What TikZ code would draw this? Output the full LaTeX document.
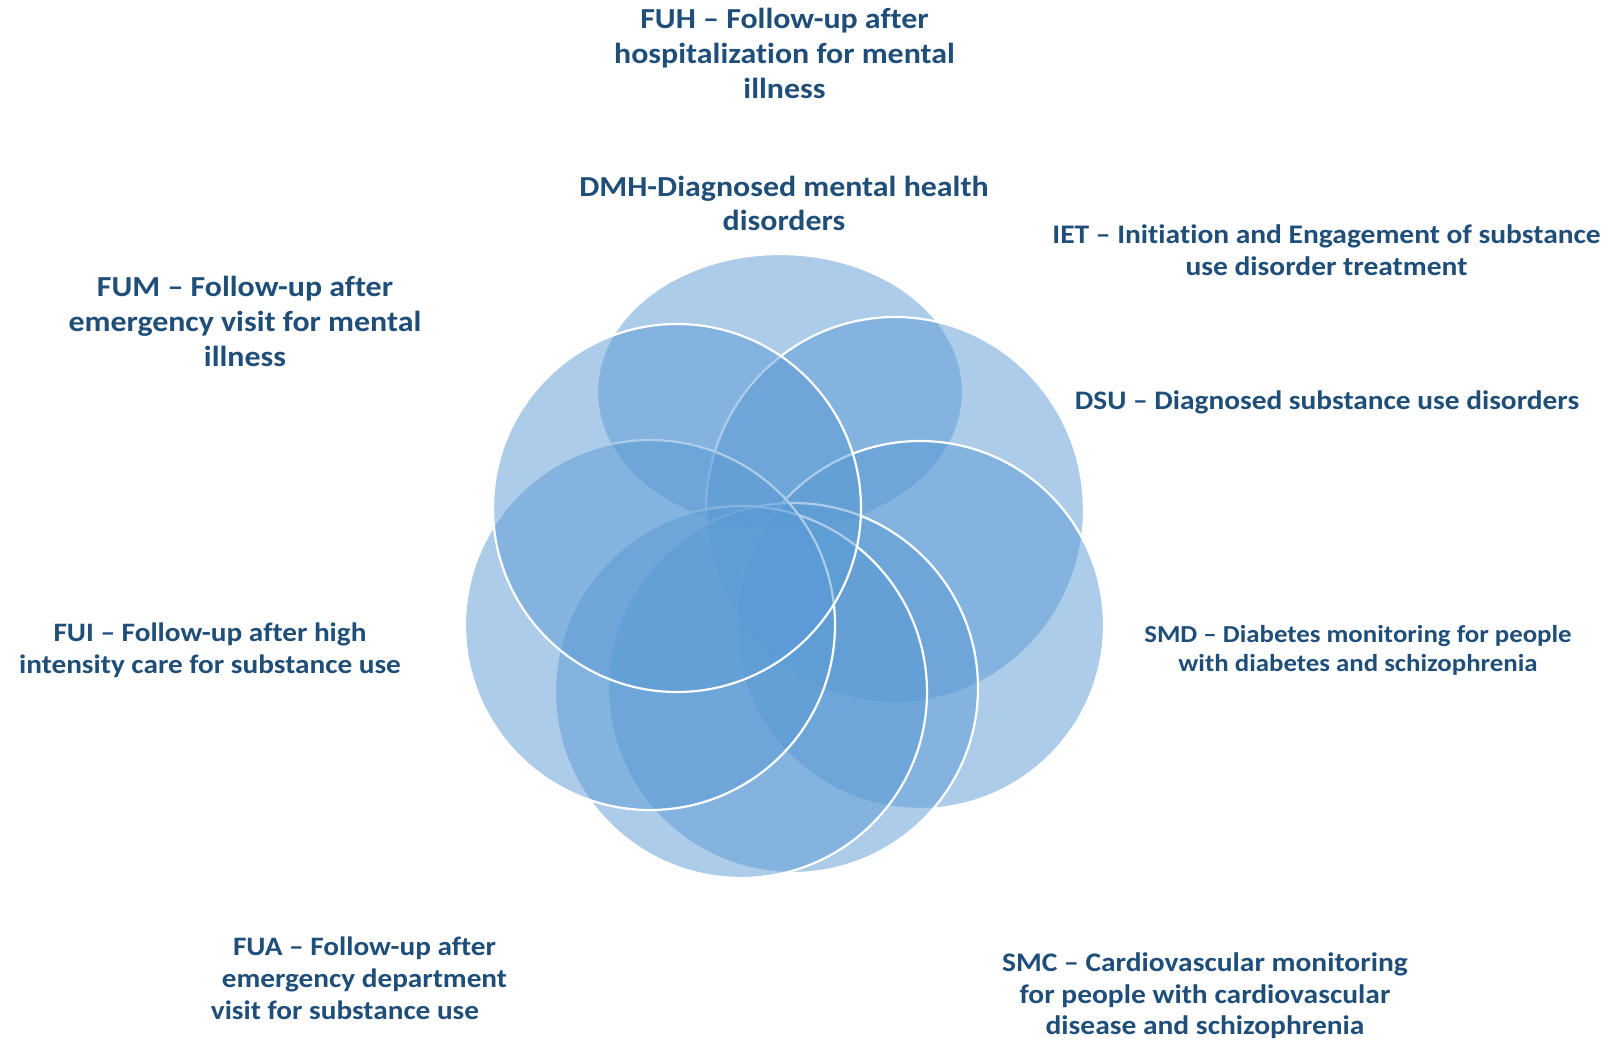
\documentclass[tikz,border=0pt]{standalone}
\usepackage{fontspec}
\setmainfont{Carlito}[FakeStretch=1.1, Ligatures=NoCommon]
\definecolor{petalblue}{HTML}{5B9BD5}
\definecolor{labelblue}{HTML}{1F4E79}
\begin{document}
\begin{tikzpicture}[x=0.5pt,y=-0.5pt,
  petal/.style={fill=petalblue, fill opacity=0.5, draw=white, line width=1.1pt},
  lbl/.style={text=labelblue, align=center, inner sep=0pt}]
\useasboundingbox (0,0) rectangle (1608,1040);
\fill[white] (0,0) rectangle (1608,1040);
% petals, in stacking order
\path[petal] (780,392) ellipse [x radius=183, y radius=138];
\path[petal] (895,510) ellipse [x radius=189, y radius=193];
\path[petal] (920,625) circle [radius=184];
\path[petal] (793,688) circle [radius=185];
\path[petal] (741,692) circle [radius=186];
\path[petal] (650,625) circle [radius=185];
\path[petal] (677,508) circle [radius=184];
% labels
\node[lbl, font=\bfseries\fontsize{14.5}{17.5}\selectfont] (fuh) at (784.5,53.3)
  {FUH – Follow-up after\\hospitalization for mental\\illness};
\node[lbl, font=\bfseries\fontsize{14.5}{17}\selectfont] (dmh) at (784,203.5)
  {DMH-Diagnosed mental health\\disorders};
\node[lbl, font=\bfseries\fontsize{13.4}{16}\selectfont] (iet) at (1326.5,249.7)
  {IET – Initiation and Engagement of substance\\use disorder treatment};
\node[lbl, font=\bfseries\fontsize{13.35}{16}\selectfont] (dsu) at (1327,402)
  {DSU – Diagnosed substance use disorders};
\node[lbl, font=\bfseries\fontsize{12.2}{14.4}\selectfont] (smd) at (1358,650)
  {SMD – Diabetes monitoring for people\\with diabetes and schizophrenia};
\node[lbl, font=\bfseries\fontsize{13.4}{15.9}\selectfont] (smc) at (1205,995.7)
  {SMC – Cardiovascular monitoring\\for people with cardiovascular\\disease and schizophrenia};
\node[lbl, font=\bfseries\fontsize{13.3}{16}\selectfont] (fua) at (364.5,978.2)
  {FUA – Follow-up after\\emergency department\\visit for substance use\hspace*{19.5pt}};
\node[lbl, font=\bfseries\fontsize{13.3}{16}\selectfont] (fui) at (210,650.6)
  {FUI – Follow-up after high\\intensity care for substance use};
\node[lbl, font=\bfseries\fontsize{14.5}{17.5}\selectfont] (fum) at (245,321)
  {FUM – Follow-up after\\emergency visit for mental\\illness};
\end{tikzpicture}
\end{document}
